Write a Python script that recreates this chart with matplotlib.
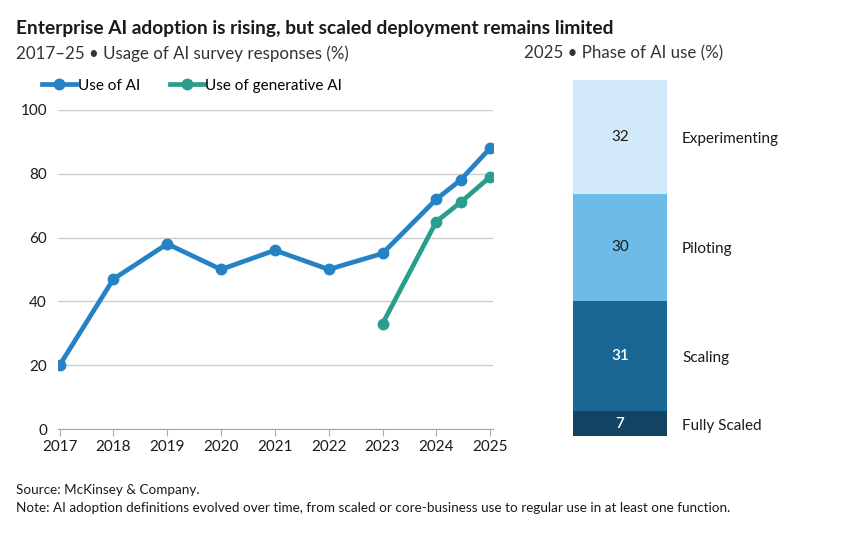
import matplotlib.pyplot as plt

plt.rcParams['font.family'] = ['Lato', 'DejaVu Sans']

# line chart data
years_ai = [2017, 2018, 2019, 2020, 2021, 2022, 2023, 2024, 2024.45, 2025]
use_ai = [20, 47, 58, 50, 56, 50, 55, 72, 78, 88]
years_gen = [2023, 2024, 2024.45, 2025]
use_gen = [33, 65, 71, 79]
year_ticks = [2017, 2018, 2019, 2020, 2021, 2022, 2023, 2024, 2025]

# stacked bar data (bottom to top)
phases = ['Fully Scaled', 'Scaling', 'Piloting', 'Experimenting']
phase_vals = [7, 31, 30, 32]
phase_colors = ['#114463', '#1a6796', '#6dbbe8', '#d1e9f9']
phase_text = ['white', 'white', '#1a1a1a', '#1a1a1a']

blue = '#2482c5'
teal = '#2a9e8c'

fig = plt.figure(figsize=(8.47, 5.33), dpi=100)

fig.text(0.019, 0.947, 'Enterprise AI adoption is rising, but scaled deployment remains limited',
         fontsize=13.8, fontweight='bold', color='#1a1a1a', va='center')
fig.text(0.019, 0.899, '2017\u201325 \u2022 Usage of AI survey responses (%)',
         fontsize=12.2, color='#333333', va='center')
fig.text(0.619, 0.899, '2025 \u2022 Phase of AI use (%)',
         fontsize=12.2, color='#333333', va='center')

# line chart
ax = fig.add_axes([0.0685, 0.195, 0.514, 0.599])
ax.plot(years_ai, use_ai, color=blue, lw=3.4, marker='o', ms=7.5, label='Use of AI', zorder=3)
ax.plot(years_gen, use_gen, color=teal, lw=3.4, marker='o', ms=7.5, label='Use of generative AI', zorder=3)
ax.set_xlim(2016.97, 2025.06)
ax.set_ylim(0, 100)
ax.set_yticks([0, 20, 40, 60, 80, 100])
ax.set_xticks(year_ticks)
ax.grid(axis='y', color='#cccccc', lw=1)
ax.set_axisbelow(True)
for s in ['top', 'right', 'left']:
    ax.spines[s].set_visible(False)
ax.spines['bottom'].set_color('#aaaaaa')
ax.tick_params(axis='y', length=0, labelsize=11, labelcolor='#1a1a1a', pad=8)
ax.tick_params(axis='x', length=5, color='#aaaaaa', labelsize=11, labelcolor='#1a1a1a', pad=3)
ax.legend(loc='lower left', bbox_to_anchor=(-0.05, 1.035), ncol=2, frameon=False, fontsize=11,
          handlelength=2.2, handletextpad=0.1, columnspacing=2.0, borderaxespad=0)

# stacked bar
bx = fig.add_axes([0.6765, 0.182, 0.111, 0.668])
bottom = 0
for name, v, c, tc in zip(phases, phase_vals, phase_colors, phase_text):
    bx.bar(0, v, bottom=bottom, width=1, color=c, edgecolor='none')
    bx.text(0, bottom + v / 2, str(v), ha='center', va='center', fontsize=11, color=tc,
            fontweight='semibold' if tc == 'white' else 'normal')
    bx.text(0.66, bottom + v / 2 - 0.6, name, ha='left', va='center', fontsize=11,
            color='#1a1a1a', clip_on=False)
    bottom += v
bx.set_xlim(-0.5, 0.5)
bx.set_ylim(0, 100)
bx.axis('off')

fig.text(0.019, 0.081, 'Source: McKinsey & Company.', fontsize=9.7, color='#1a1a1a', va='center')
fig.text(0.019, 0.046, 'Note: AI adoption definitions evolved over time, from scaled or core-business use '
         'to regular use in at least one function.', fontsize=9.7, color='#1a1a1a', va='center')

fig.savefig('out.png', dpi=100)
